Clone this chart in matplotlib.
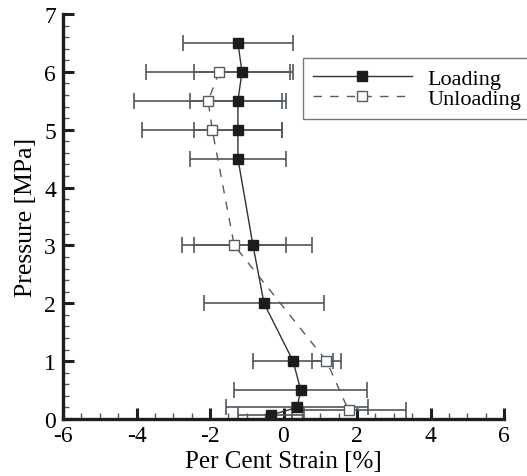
import numpy as np
import matplotlib
matplotlib.use("Agg")
import matplotlib.pyplot as plt
from matplotlib.ticker import MultipleLocator

# --- data ---

load_p = [6.5, 6.0, 5.5, 5.0, 4.5, 3.0, 2.0, 1.0, 0.5, 0.2, 0.07]
load_x = [-1.24, -1.13, -1.24, -1.24, -1.24, -0.83, -0.53, 0.26, 0.47, 0.37, -0.34]
load_err = [1.50, 1.30, 1.31, 1.20, 1.31, 1.61, 1.62, 1.10, 1.81, 1.93, 0.90]

unload_p = [6.0, 5.5, 5.0, 3.0, 1.0, 0.15]
unload_x = [-1.75, -2.05, -1.94, -1.34, 1.17, 1.77]
unload_err = [2.00, 2.02, 1.91, 1.41, 0.40, 1.55]

x_ticks = [-6, -4, -2, 0, 2, 4, 6]
y_ticks = [0, 1, 2, 3, 4, 5, 6, 7]

# --- style ---

plt.rcParams.update({
    "font.family": ["Liberation Serif", "DejaVu Serif"],
    "font.size": 17,
})

ERR_COLOR = "#4f585e"
LINE_COLOR = "#2e3236"

fig = plt.figure(figsize=(5.27, 4.77), dpi=100)
ax = fig.add_axes([63 / 527, 1 - 420 / 477, 441 / 527, 405 / 477])

ax.errorbar(load_x, load_p, xerr=load_err, fmt="none", ecolor=ERR_COLOR,
            elinewidth=1.2, capsize=5.5, capthick=1.2, zorder=2)
ax.errorbar(unload_x, unload_p, xerr=unload_err, fmt="none", ecolor=ERR_COLOR,
            elinewidth=1.2, capsize=5.5, capthick=1.2, zorder=2)

ax.plot(load_x, load_p, color=LINE_COLOR, linestyle="-", linewidth=1.0,
        marker="s", markersize=7.5, markerfacecolor="#1c1c1c",
        markeredgecolor="#1c1c1c", label="Loading", zorder=3)
ax.plot(unload_x, unload_p, color="#555b60", linestyle=(0, (6, 6)),
        linewidth=1.0, marker="s", markersize=7.5, markerfacecolor="white",
        markeredgecolor="#555b60", markeredgewidth=1.0, label="Unloading",
        zorder=3)

ax.set_xlim(-6, 6)
ax.set_ylim(0, 7)
ax.set_xticks(x_ticks)
ax.set_xticklabels([str(v) for v in x_ticks])
ax.set_yticks(y_ticks)
ax.xaxis.set_minor_locator(MultipleLocator(0.5))
ax.yaxis.set_minor_locator(MultipleLocator(0.2))

ax.spines["top"].set_visible(False)
ax.spines["right"].set_visible(False)
for s in ("left", "bottom"):
    ax.spines[s].set_linewidth(2.4)
    ax.spines[s].set_color("#1e1e1e")
    ax.spines[s].set_zorder(5)

ax.tick_params(which="major", direction="in", length=8, width=2.2,
               color="#1e1e1e", labelsize=17)
ax.tick_params(axis="x", which="major", pad=4)
ax.tick_params(axis="y", which="major", pad=5)
ax.tick_params(which="minor", direction="in", length=4.5, width=1.0,
               color="#555555")

ax.set_xlabel("Per Cent Strain [%]", fontsize=18, labelpad=3)
ax.set_ylabel("Pressure [MPa]", fontsize=18.5, labelpad=5)

leg = ax.legend(loc="upper left", bbox_to_anchor=(0.544, 0.891),
                frameon=True, fancybox=False, handlelength=4.45,
                fontsize=16, borderpad=0.45, labelspacing=0.0,
                handletextpad=0.7, borderaxespad=0)
leg.get_frame().set_edgecolor("#555555")
leg.get_frame().set_linewidth(1.0)

fig.savefig("out.png", dpi=100)
